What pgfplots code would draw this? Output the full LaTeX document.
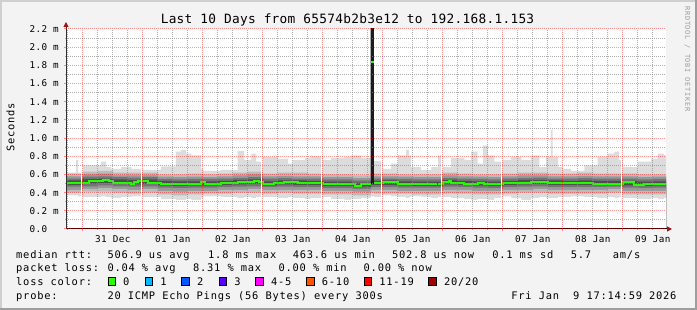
\documentclass[border=0pt]{standalone}
\usepackage{pgfplots}
\pgfplotsset{compat=1.18}
\usepackage{pgfplotstable}
\usepackage{fontspec}
\usetikzlibrary{arrows.meta}
\setmainfont{DejaVu Sans Mono}
\newfontfamily\legfam[LetterSpace=7.5]{DejaVu Sans Mono}
\newfontfamily\titfam[LetterSpace=2.2]{DejaVu Sans Mono}
\newfontfamily\ticfam[LetterSpace=4.5]{DejaVu Sans Mono}
\newfontfamily\rrdfam[LetterSpace=10]{DejaVu Sans Mono}
\newcommand\legf{\legfam\fontsize{10.4}{12}\selectfont}
\newcommand\titf{\titfam\fontsize{12.8}{14}\selectfont}
\newcommand\ticf{\ticfam\fontsize{9.3}{11}\selectfont}
\newcommand\rrdf{\rrdfam\fontsize{7}{8}\selectfont}

\definecolor{bgc}{HTML}{F3F3F3}
\definecolor{shadea}{HTML}{CFCFCF}
\definecolor{shadeb}{HTML}{9E9E9E}
\definecolor{mgridc}{HTML}{FF0000}
\definecolor{gridc}{HTML}{8C8C8C}
\definecolor{axisc}{HTML}{303030}
\definecolor{arrowc}{HTML}{9B1515}
\definecolor{s1}{HTML}{DCDCDC}
\definecolor{s2}{HTML}{BBBBBB}
\definecolor{s3}{HTML}{989898}
\definecolor{s4}{HTML}{757575}
\definecolor{s5}{HTML}{4E4E4E}
\definecolor{s6}{HTML}{1A1A1A}
\definecolor{lc0}{HTML}{26FF00}
\definecolor{lc1}{HTML}{00B8FF}
\definecolor{lc2}{HTML}{0059FF}
\definecolor{lc3}{HTML}{5E00FF}
\definecolor{lc4}{HTML}{FF00FF}
\definecolor{lc5}{HTML}{FF5500}
\definecolor{lc6}{HTML}{FF0000}
\definecolor{lc7}{HTML}{A10000}

% outer smoke envelope: x (days, 1 = 31 Dec 00:00), hi, lo  [ms]
\pgfplotstableread{
x hi lo
0.72 0.62 0.37
0.89 0.76 0.37
0.92 0.62 0.36
1.00 0.70 0.35
1.30 0.74 0.36
1.39 0.68 0.35
1.47 0.66 0.34
1.64 0.68 0.35
1.81 0.66 0.36
2.00 0.65 0.35
2.30 0.69 0.33
2.55 0.85 0.32
2.64 0.87 0.32
2.72 0.83 0.33
2.81 0.81 0.32
2.97 0.66 0.34
3.00 0.64 0.36
3.30 0.65 0.35
3.58 0.86 0.34
3.69 0.76 0.35
3.81 0.83 0.34
3.89 0.74 0.35
3.97 0.68 0.36
4.00 0.79 0.35
4.25 0.77 0.34
4.42 0.72 0.35
4.50 0.76 0.34
4.70 0.78 0.33
4.80 0.80 0.34
5.00 0.76 0.35
5.14 0.78 0.33
5.36 0.79 0.32
5.47 0.81 0.33
5.64 0.78 0.34
5.80 2.30 0.36
5.85 0.75 0.35
6.00 0.66 0.37
6.14 0.72 0.36
6.25 0.81 0.35
6.39 0.87 0.34
6.44 0.81 0.35
6.47 0.68 0.36
6.64 0.65 0.35
6.81 0.68 0.34
6.92 0.81 0.35
6.97 0.65 0.36
7.00 0.68 0.35
7.14 0.78 0.34
7.36 0.76 0.33
7.47 0.85 0.32
7.58 0.72 0.33
7.67 0.92 0.33
7.75 0.81 0.32
7.86 0.74 0.34
8.00 0.76 0.36
8.14 0.79 0.34
8.31 0.76 0.32
8.47 0.81 0.34
8.61 0.68 0.35
8.72 0.79 0.34
8.80 1.09 0.34
8.83 0.79 0.34
8.92 0.68 0.35
9.00 0.66 0.35
9.14 0.64 0.36
9.36 0.70 0.35
9.58 0.79 0.34
9.75 0.83 0.35
9.86 0.85 0.34
9.94 0.76 0.35
10.00 0.68 0.34
10.25 0.74 0.33
10.47 0.77 0.34
10.58 0.83 0.33
10.69 0.81 0.34
10.72 0.81 0.34
}\lighttab

% inner smoke bands
\pgfplotstableread{
x h2 l2 h3 l3 h4 l4 h5 l5 h6
0.72 0.61 0.40 0.58 0.43 0.555 0.465 0.535 0.485 0
1.00 0.63 0.41 0.60 0.44 0.575 0.47 0.55 0.50 0
1.25 0.64 0.41 0.61 0.45 0.58 0.48 0.555 0.505 0
1.50 0.62 0.40 0.59 0.44 0.57 0.47 0.545 0.495 0
1.75 0.62 0.39 0.59 0.43 0.565 0.465 0.54 0.49 0
2.00 0.62 0.40 0.59 0.44 0.57 0.47 0.545 0.495 0
2.25 0.60 0.38 0.575 0.42 0.55 0.455 0.53 0.48 0
2.50 0.60 0.37 0.57 0.41 0.545 0.45 0.525 0.475 0
2.75 0.61 0.38 0.575 0.42 0.55 0.455 0.525 0.48 0
3.00 0.60 0.39 0.57 0.42 0.55 0.455 0.525 0.48 0
3.25 0.61 0.39 0.58 0.43 0.555 0.46 0.53 0.485 0
3.50 0.62 0.40 0.59 0.43 0.56 0.465 0.54 0.49 0
3.75 0.63 0.40 0.60 0.44 0.57 0.47 0.545 0.495 0
4.00 0.61 0.39 0.58 0.43 0.555 0.46 0.525 0.48 0
4.25 0.62 0.40 0.585 0.43 0.56 0.465 0.535 0.49 0
4.50 0.62 0.39 0.58 0.43 0.555 0.46 0.535 0.485 0
4.75 0.61 0.39 0.58 0.43 0.555 0.46 0.53 0.485 0
5.00 0.60 0.38 0.57 0.42 0.545 0.45 0.52 0.475 0
5.25 0.60 0.38 0.57 0.42 0.545 0.45 0.52 0.475 0
5.50 0.59 0.37 0.56 0.41 0.535 0.44 0.51 0.465 0
5.80 2.30 0.40 2.30 0.43 2.30 0.46 2.30 0.49 2.30
5.85 0.61 0.39 0.58 0.43 0.555 0.46 0.53 0.485 0
6.00 0.61 0.39 0.58 0.43 0.555 0.46 0.535 0.485 0
6.25 0.60 0.39 0.575 0.42 0.55 0.455 0.525 0.48 0
6.50 0.60 0.38 0.57 0.42 0.545 0.455 0.52 0.475 0
6.75 0.60 0.38 0.57 0.42 0.545 0.455 0.52 0.475 0
7.00 0.62 0.39 0.59 0.43 0.56 0.465 0.54 0.49 0
7.25 0.61 0.39 0.58 0.43 0.555 0.46 0.53 0.485 0
7.50 0.60 0.38 0.575 0.42 0.55 0.455 0.525 0.48 0
7.75 0.60 0.38 0.57 0.42 0.545 0.45 0.52 0.475 0
8.00 0.61 0.39 0.58 0.43 0.555 0.46 0.53 0.485 0
8.25 0.62 0.40 0.59 0.43 0.56 0.465 0.54 0.49 0
8.50 0.62 0.40 0.59 0.44 0.565 0.47 0.54 0.495 0
8.75 0.61 0.39 0.58 0.43 0.555 0.46 0.535 0.485 0
9.00 0.61 0.39 0.58 0.43 0.555 0.46 0.53 0.485 0
9.25 0.62 0.39 0.585 0.43 0.56 0.46 0.535 0.485 0
9.50 0.61 0.39 0.58 0.43 0.555 0.46 0.53 0.485 0
9.75 0.61 0.40 0.58 0.44 0.555 0.465 0.53 0.49 0
10.00 0.61 0.38 0.58 0.42 0.555 0.455 0.53 0.48 0
10.25 0.60 0.38 0.57 0.42 0.545 0.45 0.52 0.475 0
10.50 0.60 0.38 0.575 0.42 0.55 0.455 0.525 0.48 0
10.72 0.60 0.38 0.575 0.42 0.55 0.455 0.525 0.48 0
}\innertab

% median rtt
\pgfplotstableread{
x y
0.72 0.51
1.00 0.51
1.11 0.53
1.22 0.525
1.33 0.535
1.44 0.525
1.50 0.51
1.81 0.50
1.86 0.515
1.92 0.53
2.08 0.51
2.31 0.50
2.53 0.495
2.64 0.50
2.97 0.515
3.03 0.50
3.31 0.505
3.58 0.515
3.86 0.53
3.94 0.515
4.00 0.495
4.19 0.51
4.36 0.515
4.58 0.505
5.00 0.49
5.14 0.50
5.53 0.478
5.64 0.50
5.80 0.50
5.80 nan
5.80 1.84
5.85 1.84
5.85 nan
5.85 0.505
6.00 0.515
6.25 0.50
6.47 0.495
7.00 0.515
7.10 0.53
7.14 0.505
7.36 0.50
7.58 0.505
7.69 0.49
8.00 0.505
8.47 0.52
8.75 0.51
9.00 0.505
9.50 0.50
10.00 0.515
10.19 0.48
10.36 0.50
10.72 0.50
}\medtab

% data gaps (no samples)
\pgfplotstableread{
x y
0.985 1.2
1.985 1.2
3.985 1.2
4.985 1.2
5.985 1.2
6.985 1.2
7.985 1.2
9.985 1.2
}\gaptab

\begin{document}
\begin{tikzpicture}[x=1pt,y=1pt]
\fill[bgc] (0,0) rectangle (697,310);
\useasboundingbox (0,0) rectangle (697,310);
\fill[shadea] (0,308) rectangle (697,310);
\fill[shadea] (0,0) rectangle (2,310);
\fill[shadeb] (0,0) rectangle (697,2);
\fill[shadeb] (695,0) rectangle (697,310);

\begin{axis}[
  at={(66pt,81pt)}, anchor=south west,
  scale only axis, width=600pt, height=200pt,
  xmin=0.72, xmax=10.72, ymin=0, ymax=2.2,
  axis on top,
  axis background/.style={fill=white},
  axis x line*=bottom, axis y line*=left,
  x axis line style={draw=black, line width=1pt, shorten >=-6pt,
    -{Triangle[length=5pt,width=5pt,color=arrowc]}},
  y axis line style={draw=axisc, line width=1pt, shorten >=-7pt,
    -{Triangle[length=5pt,width=5pt,color=arrowc]}},
  unbounded coords=jump,
  % 6-hourly grey grid, labels at noon
  xtick={0.75,1.25,1.5,1.75,2.25,2.5,2.75,3.25,3.5,3.75,4.25,4.5,4.75,5.25,5.5,5.75,6.25,6.5,6.75,7.25,7.5,7.75,8.25,8.5,8.75,9.25,9.5,9.75,10.25,10.5},
  xticklabels={{},{},31 Dec,{},{},01 Jan,{},{},02 Jan,{},{},03 Jan,{},{},04 Jan,{},{},05 Jan,{},{},06 Jan,{},{},07 Jan,{},{},08 Jan,{},{},09 Jan},
  ytick={0.1,0.3,0.5,0.7,0.9,1.1,1.3,1.5,1.7,1.9,2.1},
  yticklabel=\mbox{},
  xmajorgrids, ymajorgrids,
  major grid style={draw=gridc, draw opacity=0.7, line width=1pt, dash pattern=on 1pt off 1pt},
  tick align=outside,
  major tick length=1pt,
  major tick style={draw=gridc, draw opacity=0.7, line width=1pt},
  % red day / 0.2 ms grid
  extra x ticks={1,2,3,4,5,6,7,8,9,10},
  extra y ticks={0,0.2,0.4,0.6,0.8,1.0,1.2,1.4,1.6,1.8,2.0,2.2},
  extra y tick labels={0.0\hphantom{ m},0.2 m,0.4 m,0.6 m,0.8 m,1.0 m,1.2 m,1.4 m,1.6 m,1.8 m,2.0 m,2.2 m},
  extra x tick style={xticklabel=\mbox{}, major tick length=2pt,
    major grid style={draw=mgridc, draw opacity=0.42, line width=1pt, dash pattern=on 1pt off 1pt},
    major tick style={draw=mgridc, draw opacity=0.42, line width=1pt}},
  extra y tick style={major tick length=2pt,
    major grid style={draw=mgridc, draw opacity=0.42, line width=1pt, dash pattern=on 1pt off 1pt},
    major tick style={draw=mgridc, draw opacity=0.42, line width=1pt}},
  tick label style={font=\ticf, text=black},
  yticklabel style={anchor=east, inner sep=0pt, xshift=-5pt},
  xticklabel style={anchor=north, inner sep=0pt, yshift=-5pt},
]
% smoke, upper parts
\addplot[const plot, draw=none, fill=s1] table[x=x,y=hi]{\lighttab} \closedcycle;
\addplot[const plot, draw=none, fill=s2] table[x=x,y=h2]{\innertab} \closedcycle;
\addplot[const plot, draw=none, fill=s3] table[x=x,y=h3]{\innertab} \closedcycle;
\addplot[const plot, draw=none, fill=s4] table[x=x,y=h4]{\innertab} \closedcycle;
\addplot[const plot, draw=none, fill=s5] table[x=x,y=h5]{\innertab} \closedcycle;
\addplot[const plot, draw=none, fill=s6] table[x=x,y=h6]{\innertab} \closedcycle;
% smoke, lower parts
\addplot[const plot, draw=none, fill=s4] table[x=x,y=l5]{\innertab} \closedcycle;
\addplot[const plot, draw=none, fill=s3] table[x=x,y=l4]{\innertab} \closedcycle;
\addplot[const plot, draw=none, fill=s2] table[x=x,y=l3]{\innertab} \closedcycle;
\addplot[const plot, draw=none, fill=s1] table[x=x,y=l2]{\innertab} \closedcycle;
\addplot[const plot, draw=none, fill=white] table[x=x,y=lo]{\lighttab} \closedcycle;
% median
\addplot[const plot, draw=lc0, line width=2pt] table[x=x,y=y]{\medtab};
\addplot[draw=lc2, line width=2pt] coordinates {(6.905,0.50)(6.925,0.50)};
% gaps
\addplot[ycomb, draw=white, line width=1pt] table[x=x,y=y]{\gaptab};
\end{axis}

% title and labels
\node[anchor=base, inner sep=0pt] at (347.5,286.7) {\titf Last 10 Days from 65574b2b3e12 to 192.168.1.153};
\node[rotate=90, inner sep=0pt] at (10.5,182.5) {\legf Seconds};
\node[rotate=-90, inner sep=0pt, text=black!38] at (687.5,251) {\rrdf RRDTOOL / TOBI OETIKER};

% legend lines
\begin{scope}[every node/.style={anchor=base west, inner sep=0pt, font=\legf}]
\node at (16,51.7) {median rtt:};
\node at (107.3,51.7) {506.9 us avg};
\node at (208,51.7) {1.8 ms max};
\node at (292.6,51.7) {463.6 us min};
\node at (391.9,51.7) {502.8 us now};
\node at (492.1,51.7) {0.1 ms sd};
\node at (570.6,51.7) {5.7};
\node at (612.7,51.7) {am/s};

\node at (16,38.1) {packet loss:};
\node at (107.3,38.1) {0.04 \% avg};
\node at (192.9,38.1) {8.31 \% max};
\node at (278.4,38.1) {0.00 \% min};
\node at (363.5,38.1) {0.00 \% now};

\node at (16,24.5) {loss color:};
\node at (123,24.5) {0};
\node at (160.2,24.5) {1};
\node at (196.9,24.5) {2};
\node at (234.1,24.5) {3};
\node at (270.8,24.5) {4-5};
\node at (321.7,24.5) {6-10};
\node at (379.2,24.5) {11-19};
\node at (443.8,24.5) {20/20};

\node at (16,10.9) {probe:};
\node at (107.3,10.9) {20 ICMP Echo Pings (56 Bytes) every 300s};
\node at (511.2,10.9) {Fri Jan\ \ 9 17:14:59 2026};
\end{scope}
\foreach \bx/\bc in {107.5/lc0,144.7/lc1,181.4/lc2,218.6/lc3,255.3/lc4,306.2/lc5,363.7/lc6,428.3/lc7}
  \filldraw[fill=\bc, draw=black, line width=1pt] (\bx+0.5,24.5) rectangle (\bx+8,32);
\end{tikzpicture}
\end{document}
